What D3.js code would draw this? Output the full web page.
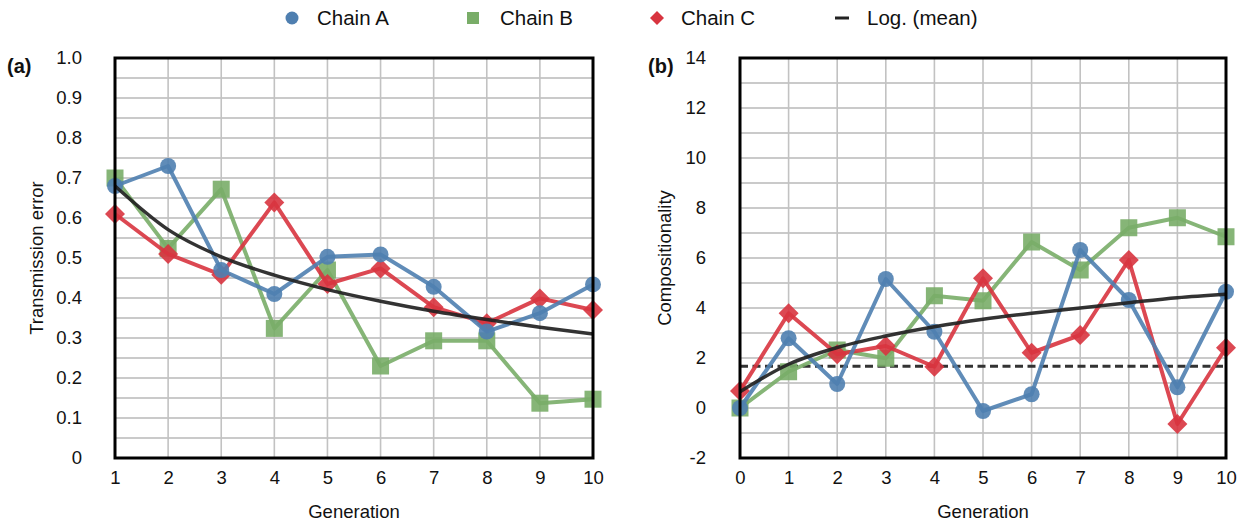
<!DOCTYPE html>
<html>
<head>
<meta charset="utf-8">
<script src="https://cdn.jsdelivr.net/npm/d3@7"></script>
<style>
  html, body { margin: 0; padding: 0; background: #fff; }
  svg { display: block; font-family: "Liberation Sans", Arial, Helvetica, sans-serif; }
</style>
</head>
<body>
<svg id="chart" width="1237" height="524"></svg>
<script>
// ---------- data ----------
const genLeft = [1, 2, 3, 4, 5, 6, 7, 8, 9, 10];
const errA = [0.68, 0.73, 0.47, 0.41, 0.503, 0.509, 0.428, 0.316, 0.362, 0.434];
const errB = [0.70, 0.524, 0.672, 0.324, 0.47, 0.23, 0.293, 0.293, 0.137, 0.147];
const errC = [0.61, 0.51, 0.458, 0.639, 0.435, 0.474, 0.377, 0.337, 0.399, 0.37];
const errLog = [0.68, 0.571, 0.503, 0.457, 0.421, 0.392, 0.367, 0.346, 0.327, 0.31];
const errTicks = [0, 0.1, 0.2, 0.3, 0.4, 0.5, 0.6, 0.7, 0.8, 0.9, 1.0];
const errTickLabels = ["0", "0.1", "0.2", "0.3", "0.4", "0.5", "0.6", "0.7", "0.8", "0.9", "1.0"];

const genRight = [0, 1, 2, 3, 4, 5, 6, 7, 8, 9, 10];
const compA = [0, 2.79, 0.96, 5.16, 3.05, -0.12, 0.55, 6.32, 4.32, 0.83, 4.65];
const compB = [0, 1.45, 2.32, 1.99, 4.49, 4.29, 6.64, 5.52, 7.21, 7.61, 6.85];
const compC = [0.68, 3.79, 2.15, 2.48, 1.65, 5.19, 2.21, 2.92, 5.92, -0.64, 2.41];
const compLog = [0.65, 1.75, 2.42, 2.88, 3.25, 3.55, 3.79, 4.0, 4.21, 4.41, 4.55];
const compBaseline = 1.67;
const compTicks = [-2, 0, 2, 4, 6, 8, 10, 12, 14];

const seriesNames = ["Chain A", "Chain B", "Chain C", "Log. (mean)"];
const colors = { A: "#4f7fb0", B: "#79ad68", C: "#d8343f", log: "#222222" };

// ---------- setup ----------
const svg = d3.select("#chart");
const plotTop = 58, plotBottom = 458;

function diamondPath(s) {
  return `M0,${-s}L${s},0L0,${s}L${-s},0Z`;
}

function drawMarker(g, type, x, y, size, color, opacity) {
  if (type === "circle") {
    g.append("circle").attr("cx", x).attr("cy", y).attr("r", size)
      .attr("fill", color).attr("opacity", opacity);
  } else if (type === "square") {
    g.append("rect").attr("x", x - size).attr("y", y - size)
      .attr("width", size * 2).attr("height", size * 2)
      .attr("fill", color).attr("opacity", opacity);
  } else if (type === "diamond") {
    g.append("path").attr("d", diamondPath(size))
      .attr("transform", `translate(${x},${y})`)
      .attr("fill", color).attr("opacity", opacity);
  }
}

function panel(opts) {
  const { x0, x1, xs, yDomain, gridStep, ticks, tickLabels, series, logVals, baseline, title, letter, letterX, tickRight, ytitleX } = opts;
  const g = svg.append("g");
  const x = d3.scaleLinear().domain([xs[0], xs[xs.length - 1]]).range([x0, x1]);
  const y = d3.scaleLinear().domain(yDomain).range([plotBottom, plotTop]);

  // grid
  const hGrid = d3.range(yDomain[0], yDomain[1] + gridStep / 2, gridStep);
  g.append("g").selectAll("line").data(hGrid).join("line")
    .attr("x1", x0).attr("x2", x1)
    .attr("y1", d => y(d)).attr("y2", d => y(d))
    .attr("stroke", "#b8b8b8").attr("stroke-width", 1.6);
  g.append("g").selectAll("line").data(xs).join("line")
    .attr("x1", d => x(d)).attr("x2", d => x(d))
    .attr("y1", plotTop).attr("y2", plotBottom)
    .attr("stroke", "#c2c2c2").attr("stroke-width", 1.6);

  // baseline dashed
  if (baseline !== undefined) {
    g.append("line").attr("x1", x0).attr("x2", x1)
      .attr("y1", y(baseline)).attr("y2", y(baseline))
      .attr("stroke", "#333").attr("stroke-width", 3)
      .attr("stroke-dasharray", "8,4.5");
  }

  const line = d3.line().x((d, i) => x(xs[i])).y(d => y(d));
  series.forEach(s => {
    g.append("path").datum(s.vals).attr("d", line)
      .attr("fill", "none").attr("stroke", s.color).attr("stroke-width", 4)
      .attr("stroke-linejoin", "round").attr("opacity", 0.9);
    const mg = g.append("g");
    s.vals.forEach((v, i) => drawMarker(mg, s.type, x(xs[i]), y(v), s.size, s.color, 0.9));
  });

  // log curve
  const curve = d3.line().x((d, i) => x(xs[i])).y(d => y(d)).curve(d3.curveMonotoneX);
  g.append("path").datum(logVals).attr("d", curve)
    .attr("fill", "none").attr("stroke", colors.log).attr("stroke-width", 3.5)
    .attr("opacity", 0.92);

  // frame
  g.append("rect").attr("x", x0).attr("y", plotTop).attr("width", x1 - x0).attr("height", plotBottom - plotTop)
    .attr("fill", "none").attr("stroke", "#000").attr("stroke-width", 3);

  // axes via d3 axis (no domain/ticks lines)
  const yAxis = d3.axisLeft(y).tickValues(ticks).tickFormat((d, i) => tickLabels[i]).tickSize(0).tickPadding(0);
  const ya = g.append("g").attr("transform", `translate(${tickRight},0)`).call(yAxis);
  ya.select(".domain").remove();
  ya.selectAll("text").attr("font-size", 18.5).attr("fill", "#111")
    .attr("font-family", "Liberation Sans, Arial, sans-serif");

  const xAxis = d3.axisBottom(x).tickValues(xs).tickFormat(d3.format("d")).tickSize(0).tickPadding(0);
  const xa = g.append("g").attr("transform", `translate(0,${471})`).call(xAxis);
  xa.select(".domain").remove();
  xa.selectAll("text").attr("font-size", 18.5).attr("fill", "#111")
    .attr("font-family", "Liberation Sans, Arial, sans-serif");

  g.append("text").attr("x", (x0 + x1) / 2).attr("y", 518).attr("text-anchor", "middle")
    .attr("font-size", 18.5).attr("fill", "#111").text("Generation");
  g.append("text").attr("transform", `translate(${ytitleX},${(plotTop + plotBottom) / 2}) rotate(-90)`)
    .attr("text-anchor", "middle").attr("font-size", 18.5).attr("fill", "#111").text(title);
  g.append("text").attr("x", letterX).attr("y", 73).attr("font-size", 20).attr("font-weight", "bold")
    .attr("fill", "#111").text(letter);
}

panel({
  x0: 115, x1: 593, xs: genLeft, yDomain: [0, 1], gridStep: 0.05,
  ticks: errTicks, tickLabels: errTickLabels,
  series: [
    { vals: errB, color: colors.B, type: "square", size: 8.5 },
    { vals: errC, color: colors.C, type: "diamond", size: 10 },
    { vals: errA, color: colors.A, type: "circle", size: 8 }
  ],
  logVals: errLog, title: "Transmission error", letter: "(a)", letterX: 7, tickRight: 82, ytitleX: 43
});

panel({
  x0: 740, x1: 1226, xs: genRight, yDomain: [-2, 14], gridStep: 1,
  ticks: compTicks, tickLabels: compTicks.map(String),
  series: [
    { vals: compB, color: colors.B, type: "square", size: 8.5 },
    { vals: compC, color: colors.C, type: "diamond", size: 10 },
    { vals: compA, color: colors.A, type: "circle", size: 8 }
  ],
  logVals: compLog, baseline: compBaseline, title: "Compositionality", letter: "(b)", letterX: 648, tickRight: 706, ytitleX: 671
});

// ---------- legend ----------
const leg = svg.append("g");
const legItems = [
  { name: seriesNames[0], mx: 292, tx: 317, type: "circle", color: colors.A, size: 6.5 },
  { name: seriesNames[1], mx: 473, tx: 500, type: "square", color: colors.B, size: 6 },
  { name: seriesNames[2], mx: 657, tx: 681, type: "diamond", color: colors.C, size: 7 },
  { name: seriesNames[3], mx: 842, tx: 867, type: "dash", color: colors.log, size: 0 }
];
legItems.forEach(it => {
  if (it.type === "dash") {
    leg.append("line").attr("x1", it.mx - 7).attr("x2", it.mx + 7).attr("y1", 18).attr("y2", 18)
      .attr("stroke", it.color).attr("stroke-width", 3);
  } else {
    drawMarker(leg, it.type, it.mx, 18, it.size, it.color, 1);
  }
  leg.append("text").attr("x", it.tx).attr("y", 24.5).attr("font-size", 20.5).attr("fill", "#111").text(it.name);
});
</script>
</body>
</html>
